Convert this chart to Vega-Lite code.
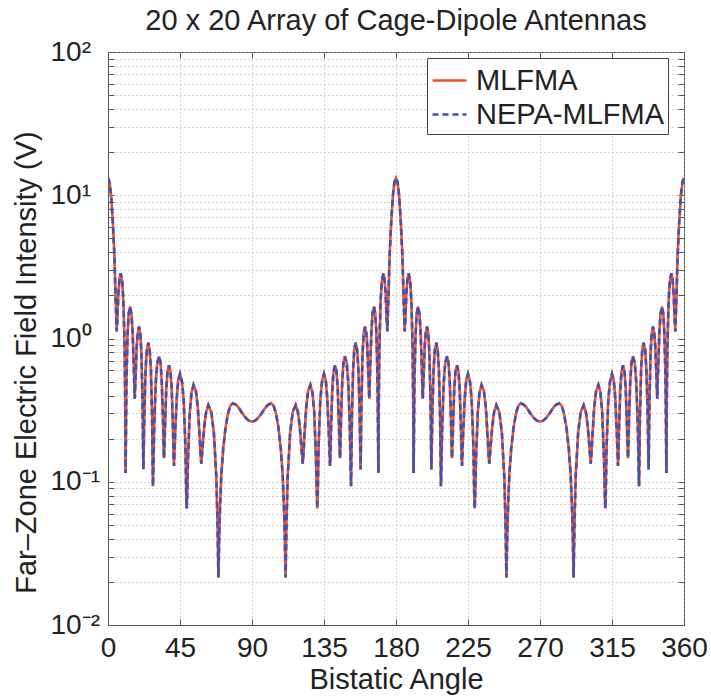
{
  "$schema": "https://vega.github.io/schema/vega-lite/v6.json",
  "width": 576,
  "height": 573,
  "autosize": {"type": "none"},
  "padding": {"left": 108, "top": 52, "right": 27, "bottom": 72},
  "background": "white",
  "title": {"text": "20 x 20 Array of Cage-Dipole Antennas", "fontSize": 29, "fontWeight": "normal", "font": "Liberation Sans", "color": "#222", "baseline": "alphabetic", "offset": 8, "dy": 29, "anchor": "middle"},
  "data": {"values": [
{"a":0,"v":13.2},{"a":1,"v":12.3},{"a":2,"v":9.8},{"a":3,"v":6.5},{"a":4,"v":3.8},{"a":4.7,"v":2.0},{"a":5.4,"v":1.12},{"a":5.9,"v":1.4},{"a":6.5,"v":2.1},{"a":7.2,"v":2.6},{"a":7.9,"v":2.85},{"a":8.83,"v":2.54},{"a":9.6,"v":1.85},{"a":10.38,"v":0.88},{"a":10.75,"v":0.36},{"a":11,"v":0.115},{"a":11.22,"v":0.21},{"a":11.55,"v":0.52},{"a":12.24,"v":1.08},{"a":12.93,"v":1.49},{"a":13.75,"v":1.67},{"a":14.64,"v":1.5},{"a":15.37,"v":1.12},{"a":16.11,"v":0.64},{"a":16.7,"v":0.38},{"a":17.24,"v":0.53},{"a":17.92,"v":0.87},{"a":18.59,"v":1.1},{"a":19.4,"v":1.21},{"a":20.21,"v":1.08},{"a":20.89,"v":0.785},{"a":21.56,"v":0.37},{"a":21.88,"v":0.19},{"a":22.1,"v":0.122},{"a":22.35,"v":0.17},{"a":22.72,"v":0.3},{"a":23.5,"v":0.61},{"a":24.27,"v":0.83},{"a":25.2,"v":0.935},{"a":26.07,"v":0.83},{"a":26.8,"v":0.61},{"a":27.52,"v":0.29},{"a":27.87,"v":0.14},{"a":28.1,"v":0.093},{"a":28.4,"v":0.13},{"a":28.86,"v":0.24},{"a":29.81,"v":0.49},{"a":30.76,"v":0.67},{"a":31.9,"v":0.75},{"a":32.83,"v":0.68},{"a":33.6,"v":0.5},{"a":34.38,"v":0.27},{"a":34.75,"v":0.17},{"a":35,"v":0.146},{"a":35.25,"v":0.17},{"a":35.62,"v":0.24},{"a":36.4,"v":0.44},{"a":37.17,"v":0.59},{"a":38.1,"v":0.65},{"a":39.05,"v":0.59},{"a":39.83,"v":0.44},{"a":40.62,"v":0.23},{"a":41,"v":0.15},{"a":41.25,"v":0.129},{"a":41.55,"v":0.16},{"a":42,"v":0.22},{"a":42.94,"v":0.38},{"a":43.87,"v":0.51},{"a":45,"v":0.565},{"a":46.26,"v":0.5},{"a":47.31,"v":0.37},{"a":48.36,"v":0.18},{"a":48.86,"v":0.085},{"a":49.2,"v":0.065},{"a":49.54,"v":0.085},{"a":50.06,"v":0.15},{"a":51.14,"v":0.31},{"a":52.21,"v":0.42},{"a":53.5,"v":0.474},{"a":54.94,"v":0.43},{"a":56.14,"v":0.33},{"a":57.34,"v":0.2},{"a":57.92,"v":0.15},{"a":58.3,"v":0.134},{"a":58.65,"v":0.15},{"a":59.18,"v":0.18},{"a":60.28,"v":0.25},{"a":61.38,"v":0.31},{"a":62.7,"v":0.343},{"a":64.59,"v":0.305},{"a":66.17,"v":0.22},{"a":67.74,"v":0.106},{"a":68.5,"v":0.048},{"a":69,"v":0.0215},{"a":69.5,"v":0.04},{"a":70,"v":0.065},{"a":70.8,"v":0.11},{"a":72,"v":0.17},{"a":73.5,"v":0.24},{"a":75,"v":0.3},{"a":76.5,"v":0.34},{"a":78,"v":0.353},{"a":80,"v":0.345},{"a":82,"v":0.325},{"a":84,"v":0.3},{"a":86,"v":0.28},{"a":88,"v":0.267},{"a":90,"v":0.263},
{"a":92,"v":0.267},{"a":94,"v":0.28},{"a":96,"v":0.3},{"a":98,"v":0.325},{"a":100,"v":0.345},{"a":102,"v":0.353},{"a":103.5,"v":0.34},{"a":105,"v":0.3},{"a":106.5,"v":0.24},{"a":108,"v":0.17},{"a":109.2,"v":0.11},{"a":110,"v":0.065},{"a":110.5,"v":0.04},{"a":111,"v":0.0215},{"a":111.5,"v":0.048},{"a":112.26,"v":0.106},{"a":113.83,"v":0.22},{"a":115.41,"v":0.305},{"a":117.3,"v":0.343},{"a":118.62,"v":0.31},{"a":119.72,"v":0.25},{"a":120.82,"v":0.18},{"a":121.35,"v":0.15},{"a":121.7,"v":0.134},{"a":122.08,"v":0.15},{"a":122.66,"v":0.2},{"a":123.86,"v":0.33},{"a":125.06,"v":0.43},{"a":126.5,"v":0.474},{"a":127.79,"v":0.42},{"a":128.86,"v":0.31},{"a":129.94,"v":0.15},{"a":130.46,"v":0.085},{"a":130.8,"v":0.065},{"a":131.14,"v":0.085},{"a":131.64,"v":0.18},{"a":132.69,"v":0.37},{"a":133.74,"v":0.5},{"a":135,"v":0.565},{"a":136.13,"v":0.51},{"a":137.06,"v":0.38},{"a":138,"v":0.22},{"a":138.45,"v":0.16},{"a":138.75,"v":0.129},{"a":139,"v":0.15},{"a":139.38,"v":0.23},{"a":140.17,"v":0.44},{"a":140.95,"v":0.59},{"a":141.9,"v":0.65},{"a":142.83,"v":0.59},{"a":143.6,"v":0.44},{"a":144.38,"v":0.24},{"a":144.75,"v":0.17},{"a":145,"v":0.146},{"a":145.25,"v":0.17},{"a":145.62,"v":0.27},{"a":146.4,"v":0.5},{"a":147.17,"v":0.68},{"a":148.1,"v":0.75},{"a":149.24,"v":0.67},{"a":150.19,"v":0.49},{"a":151.14,"v":0.24},{"a":151.6,"v":0.13},{"a":151.9,"v":0.093},{"a":152.13,"v":0.14},{"a":152.48,"v":0.29},{"a":153.2,"v":0.61},{"a":153.93,"v":0.83},{"a":154.8,"v":0.935},{"a":155.73,"v":0.83},{"a":156.5,"v":0.61},{"a":157.28,"v":0.3},{"a":157.65,"v":0.17},{"a":157.9,"v":0.122},{"a":158.12,"v":0.19},{"a":158.44,"v":0.37},{"a":159.11,"v":0.785},{"a":159.79,"v":1.08},{"a":160.6,"v":1.21},{"a":161.41,"v":1.1},{"a":162.08,"v":0.87},{"a":162.76,"v":0.53},{"a":163.3,"v":0.38},{"a":163.89,"v":0.64},{"a":164.63,"v":1.12},{"a":165.36,"v":1.5},{"a":166.25,"v":1.67},{"a":167.07,"v":1.49},{"a":167.76,"v":1.08},{"a":168.45,"v":0.52},{"a":168.78,"v":0.21},{"a":169,"v":0.115},{"a":169.25,"v":0.36},{"a":169.62,"v":0.88},{"a":170.4,"v":1.85},{"a":171.17,"v":2.54},{"a":172.1,"v":2.85},{"a":172.8,"v":2.6},{"a":173.5,"v":2.1},{"a":174.1,"v":1.4},{"a":174.6,"v":1.12},{"a":175.3,"v":2.0},{"a":176,"v":3.8},{"a":177,"v":6.5},{"a":178,"v":9.8},{"a":179,"v":12.3},{"a":180,"v":13.2},
{"a":181,"v":12.3},{"a":182,"v":9.8},{"a":183,"v":6.5},{"a":184,"v":3.8},{"a":184.7,"v":2.0},{"a":185.4,"v":1.12},{"a":185.9,"v":1.4},{"a":186.5,"v":2.1},{"a":187.2,"v":2.6},{"a":187.9,"v":2.85},{"a":188.83,"v":2.54},{"a":189.6,"v":1.85},{"a":190.38,"v":0.88},{"a":190.75,"v":0.36},{"a":191,"v":0.115},{"a":191.22,"v":0.21},{"a":191.55,"v":0.52},{"a":192.24,"v":1.08},{"a":192.93,"v":1.49},{"a":193.75,"v":1.67},{"a":194.64,"v":1.5},{"a":195.37,"v":1.12},{"a":196.11,"v":0.64},{"a":196.7,"v":0.38},{"a":197.24,"v":0.53},{"a":197.92,"v":0.87},{"a":198.59,"v":1.1},{"a":199.4,"v":1.21},{"a":200.21,"v":1.08},{"a":200.89,"v":0.785},{"a":201.56,"v":0.37},{"a":201.88,"v":0.19},{"a":202.1,"v":0.122},{"a":202.35,"v":0.17},{"a":202.72,"v":0.3},{"a":203.5,"v":0.61},{"a":204.27,"v":0.83},{"a":205.2,"v":0.935},{"a":206.07,"v":0.83},{"a":206.8,"v":0.61},{"a":207.52,"v":0.29},{"a":207.87,"v":0.14},{"a":208.1,"v":0.093},{"a":208.4,"v":0.13},{"a":208.86,"v":0.24},{"a":209.81,"v":0.49},{"a":210.76,"v":0.67},{"a":211.9,"v":0.75},{"a":212.83,"v":0.68},{"a":213.6,"v":0.5},{"a":214.38,"v":0.27},{"a":214.75,"v":0.17},{"a":215,"v":0.146},{"a":215.25,"v":0.17},{"a":215.62,"v":0.24},{"a":216.4,"v":0.44},{"a":217.17,"v":0.59},{"a":218.1,"v":0.65},{"a":219.05,"v":0.59},{"a":219.83,"v":0.44},{"a":220.62,"v":0.23},{"a":221,"v":0.15},{"a":221.25,"v":0.129},{"a":221.55,"v":0.16},{"a":222,"v":0.22},{"a":222.94,"v":0.38},{"a":223.87,"v":0.51},{"a":225,"v":0.565},{"a":226.26,"v":0.5},{"a":227.31,"v":0.37},{"a":228.36,"v":0.18},{"a":228.86,"v":0.085},{"a":229.2,"v":0.065},{"a":229.54,"v":0.085},{"a":230.06,"v":0.15},{"a":231.14,"v":0.31},{"a":232.21,"v":0.42},{"a":233.5,"v":0.474},{"a":234.94,"v":0.43},{"a":236.14,"v":0.33},{"a":237.34,"v":0.2},{"a":237.92,"v":0.15},{"a":238.3,"v":0.134},{"a":238.65,"v":0.15},{"a":239.18,"v":0.18},{"a":240.28,"v":0.25},{"a":241.38,"v":0.31},{"a":242.7,"v":0.343},{"a":244.59,"v":0.305},{"a":246.17,"v":0.22},{"a":247.74,"v":0.106},{"a":248.5,"v":0.048},{"a":249,"v":0.0215},{"a":249.5,"v":0.04},{"a":250,"v":0.065},{"a":250.8,"v":0.11},{"a":252,"v":0.17},{"a":253.5,"v":0.24},{"a":255,"v":0.3},{"a":256.5,"v":0.34},{"a":258,"v":0.353},{"a":260,"v":0.345},{"a":262,"v":0.325},{"a":264,"v":0.3},{"a":266,"v":0.28},{"a":268,"v":0.267},{"a":270,"v":0.263},
{"a":272,"v":0.267},{"a":274,"v":0.28},{"a":276,"v":0.3},{"a":278,"v":0.325},{"a":280,"v":0.345},{"a":282,"v":0.353},{"a":283.5,"v":0.34},{"a":285,"v":0.3},{"a":286.5,"v":0.24},{"a":288,"v":0.17},{"a":289.2,"v":0.11},{"a":290,"v":0.065},{"a":290.5,"v":0.04},{"a":291,"v":0.0215},{"a":291.5,"v":0.048},{"a":292.26,"v":0.106},{"a":293.83,"v":0.22},{"a":295.41,"v":0.305},{"a":297.3,"v":0.343},{"a":298.62,"v":0.31},{"a":299.72,"v":0.25},{"a":300.82,"v":0.18},{"a":301.35,"v":0.15},{"a":301.7,"v":0.134},{"a":302.08,"v":0.15},{"a":302.66,"v":0.2},{"a":303.86,"v":0.33},{"a":305.06,"v":0.43},{"a":306.5,"v":0.474},{"a":307.79,"v":0.42},{"a":308.86,"v":0.31},{"a":309.94,"v":0.15},{"a":310.46,"v":0.085},{"a":310.8,"v":0.065},{"a":311.14,"v":0.085},{"a":311.64,"v":0.18},{"a":312.69,"v":0.37},{"a":313.74,"v":0.5},{"a":315,"v":0.565},{"a":316.13,"v":0.51},{"a":317.06,"v":0.38},{"a":318,"v":0.22},{"a":318.45,"v":0.16},{"a":318.75,"v":0.129},{"a":319,"v":0.15},{"a":319.38,"v":0.23},{"a":320.17,"v":0.44},{"a":320.95,"v":0.59},{"a":321.9,"v":0.65},{"a":322.83,"v":0.59},{"a":323.6,"v":0.44},{"a":324.38,"v":0.24},{"a":324.75,"v":0.17},{"a":325,"v":0.146},{"a":325.25,"v":0.17},{"a":325.62,"v":0.27},{"a":326.4,"v":0.5},{"a":327.17,"v":0.68},{"a":328.1,"v":0.75},{"a":329.24,"v":0.67},{"a":330.19,"v":0.49},{"a":331.14,"v":0.24},{"a":331.6,"v":0.13},{"a":331.9,"v":0.093},{"a":332.13,"v":0.14},{"a":332.48,"v":0.29},{"a":333.2,"v":0.61},{"a":333.93,"v":0.83},{"a":334.8,"v":0.935},{"a":335.73,"v":0.83},{"a":336.5,"v":0.61},{"a":337.28,"v":0.3},{"a":337.65,"v":0.17},{"a":337.9,"v":0.122},{"a":338.12,"v":0.19},{"a":338.44,"v":0.37},{"a":339.11,"v":0.785},{"a":339.79,"v":1.08},{"a":340.6,"v":1.21},{"a":341.41,"v":1.1},{"a":342.08,"v":0.87},{"a":342.76,"v":0.53},{"a":343.3,"v":0.38},{"a":343.89,"v":0.64},{"a":344.63,"v":1.12},{"a":345.36,"v":1.5},{"a":346.25,"v":1.67},{"a":347.07,"v":1.49},{"a":347.76,"v":1.08},{"a":348.45,"v":0.52},{"a":348.78,"v":0.21},{"a":349,"v":0.115},{"a":349.25,"v":0.36},{"a":349.62,"v":0.88},{"a":350.4,"v":1.85},{"a":351.17,"v":2.54},{"a":352.1,"v":2.85},{"a":352.8,"v":2.6},{"a":353.5,"v":2.1},{"a":354.1,"v":1.4},{"a":354.6,"v":1.12},{"a":355.3,"v":2.0},{"a":356,"v":3.8},{"a":357,"v":6.5},{"a":358,"v":9.8},{"a":359,"v":12.3},{"a":360,"v":13.2}
  ]},
  "layer": [
    {"mark": {"type": "line", "strokeWidth": 2.6, "clip": true},
     "encoding": {
       "x": {"field": "a", "type": "quantitative",
         "scale": {"domain": [0, 360], "nice": false, "zero": false},
         "axis": {"title": "Bistatic Angle", "values": [0, 45, 90, 135, 180, 225, 270, 315, 360], "labelFlush": false, "labelPadding": 15, "titleY": 63, "titleBaseline": "alphabetic"}},
       "y": {"field": "v", "type": "quantitative",
         "scale": {"type": "log", "domain": [0.01, 100], "nice": false},
         "axis": {"title": "Far–Zone Electric Field Intensity (V)",
           "values": [0.01,0.02,0.03,0.04,0.05,0.06,0.07,0.08,0.09,0.1,0.2,0.3,0.4,0.5,0.6,0.7,0.8,0.9,1,2,3,4,5,6,7,8,9,10,20,30,40,50,60,70,80,90,100],
           "labelExpr": "datum.value == 100 ? '10²' : datum.value == 10 ? '10¹' : datum.value == 1 ? '10⁰' : datum.value == 0.1 ? '10⁻¹' : datum.value == 0.01 ? '10⁻²' : ''",
           "labelOverlap": false, "labelAlign": "left", "labelPadding": 64, "titleX": -73, "titleY": 310, "titleBaseline": "alphabetic"}},
       "color": {"datum": "MLFMA", "type": "nominal", "scale": {"domain": ["MLFMA", "NEPA-MLFMA"], "range": ["#f0502e", "#3d52b8"]}, "legend": {"title": null}},
       "strokeDash": {"datum": "MLFMA", "type": "nominal", "scale": {"domain": ["MLFMA", "NEPA-MLFMA"], "range": [[1, 0], [6, 4]]}, "legend": {"title": null}}
     }},
    {"mark": {"type": "line", "strokeWidth": 2.6, "clip": true},
     "encoding": {
       "x": {"field": "a", "type": "quantitative",
         "axis": {"orient": "top", "title": null, "labels": false, "grid": false, "domain": false, "values": [0, 45, 90, 135, 180, 225, 270, 315, 360]}},
       "y": {"field": "v", "type": "quantitative",
         "axis": {"orient": "right", "title": null, "labels": false, "grid": false, "domain": false,
           "values": [0.01,0.02,0.03,0.04,0.05,0.06,0.07,0.08,0.09,0.1,0.2,0.3,0.4,0.5,0.6,0.7,0.8,0.9,1,2,3,4,5,6,7,8,9,10,20,30,40,50,60,70,80,90,100]}},
       "color": {"datum": "NEPA-MLFMA", "type": "nominal"},
       "strokeDash": {"datum": "NEPA-MLFMA", "type": "nominal"}
     }}
  ],
  "resolve": {"axis": {"x": "independent", "y": "independent"}},
  "config": {
    "font": "Liberation Sans",
    "view": {"stroke": "#555", "strokeWidth": 1},
    "axis": {
      "domainColor": "#555", "ticks": true, "tickSize": -6, "tickColor": "#555", "tickWidth": 1,
      "grid": true, "gridColor": "#aaa", "gridDash": [1, 3], "gridWidth": 1,
      "labelFont": "Liberation Sans", "labelFontSize": 28, "labelColor": "#222",
      "titleFont": "Liberation Sans", "titleFontSize": 29, "titleFontWeight": "normal", "titleColor": "#222"
    },
    "legend": {
      "orient": "none", "legendX": 319, "legendY": 6,
      "strokeColor": "#444", "fillColor": "white", "padding": 4,
      "labelFont": "Liberation Sans", "labelFontSize": 29, "labelColor": "#222", "labelLimit": 400,
      "symbolType": "stroke", "symbolSize": 1156, "symbolStrokeWidth": 2.5,
      "rowPadding": 0, "labelOffset": 8, "cornerRadius": 0
    }
  }
}
